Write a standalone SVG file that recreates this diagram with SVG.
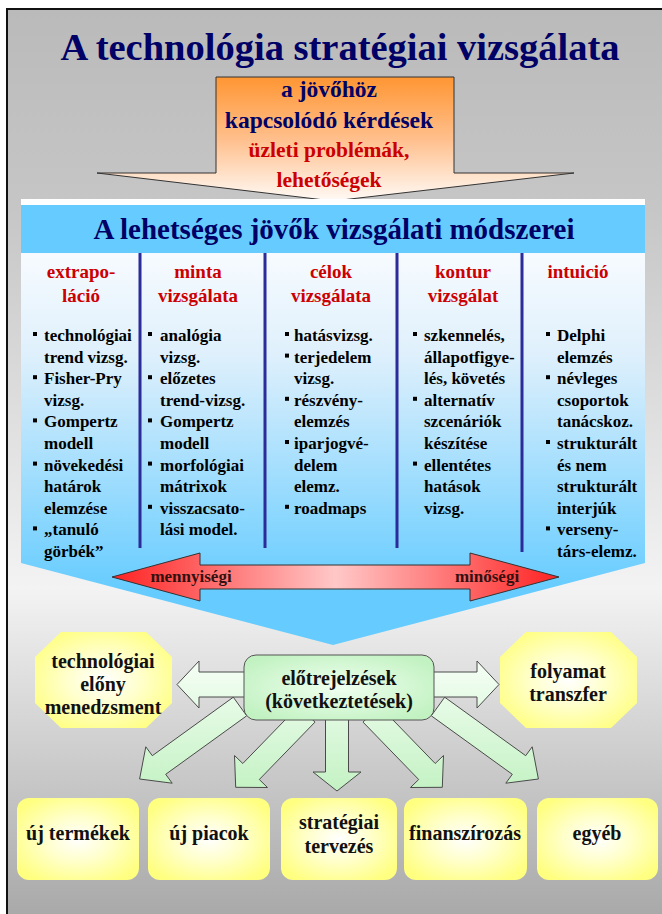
<svg xmlns="http://www.w3.org/2000/svg" width="662" height="914" viewBox="0 0 662 914">
  <style>
    text { font-family: "Liberation Serif", "Times New Roman", serif; font-weight: bold; }
    .title { font-size: 38.5px; fill: #000066; text-anchor: middle; }
    .q { font-size: 23.5px; fill: #000066; text-anchor: middle; }
    .p { font-size: 21.5px; fill: #cc0000; text-anchor: middle; }
    .hdr { font-size: 29px; fill: #000066; text-anchor: middle; }
    .colh { font-size: 19px; fill: #cc0000; text-anchor: middle; }
    .item { font-size: 17px; fill: #000000; }
    .scale { font-size: 17px; fill: #331111; text-anchor: middle; }
    .lab { font-size: 20px; fill: #111111; text-anchor: middle; }
    .div { stroke: #2b2b99; stroke-width: 3; }
    .blockarrow { fill: url(#arrowFill); stroke: #4a4a4a; stroke-width: 1; }
    .yellow { fill: url(#yellow); }
  </style>
  <defs>
    <linearGradient id="bg" gradientUnits="userSpaceOnUse" x1="0" y1="9" x2="0" y2="914">
      <stop offset="0" stop-color="#bababa"/>
      <stop offset="0.22" stop-color="#c6c6c6"/>
      <stop offset="0.64" stop-color="#f3f3f3"/>
      <stop offset="1" stop-color="#a9a9a9"/>
    </linearGradient>
    <linearGradient id="orange" x1="0" y1="0" x2="0" y2="1">
      <stop offset="0" stop-color="#ff9633"/>
      <stop offset="0.5" stop-color="#ffbf8c"/>
      <stop offset="1" stop-color="#fffaf6"/>
    </linearGradient>
    <linearGradient id="body" gradientUnits="userSpaceOnUse" x1="0" y1="253" x2="0" y2="590">
      <stop offset="0" stop-color="#f7fbff"/>
      <stop offset="0.3" stop-color="#dff0fc"/>
      <stop offset="1" stop-color="#66ccff"/>
    </linearGradient>
    <linearGradient id="red" x1="0" y1="0" x2="1" y2="0">
      <stop offset="0" stop-color="#ff2222"/>
      <stop offset="0.5" stop-color="#ffc8c8"/>
      <stop offset="1" stop-color="#ff2222"/>
    </linearGradient>
    <radialGradient id="yellow" cx="0.5" cy="0.5" r="0.6">
      <stop offset="0" stop-color="#ffffff"/>
      <stop offset="0.45" stop-color="#ffffcc"/>
      <stop offset="1" stop-color="#ffff80"/>
    </radialGradient>
    <radialGradient id="green" cx="0.5" cy="0.5" r="0.6">
      <stop offset="0" stop-color="#f0fff0"/>
      <stop offset="1" stop-color="#c2f2c2"/>
    </radialGradient>
    <linearGradient id="arrowFill" gradientUnits="userSpaceOnUse" x1="0" y1="655" x2="0" y2="790">
      <stop offset="0" stop-color="#f8fff8"/>
      <stop offset="1" stop-color="#c4f2c4"/>
    </linearGradient>
    <rect id="blt" width="4" height="4" fill="#000"/>
  </defs>

  <!-- page frame -->
  <rect x="0" y="0" width="662" height="914" fill="#ffffff"/>
  <rect x="7" y="9" width="700" height="950" fill="url(#bg)" stroke="#111" stroke-width="2"/>

  <!-- title -->
  <g id="title">
    <text class="title" x="340" y="60">A technológia stratégiai vizsgálata</text>
  </g>

  <!-- incoming questions arrow -->
  <g id="questions">
    <path d="M216,77 H454 V173 H574 L333,201 L97,173 H216 Z" fill="url(#orange)" stroke="#333" stroke-width="1"/>
    <text class="q" x="329" y="97">a jövőhöz</text>
    <text class="q" x="329" y="128">kapcsolódó kérdések</text>
    <text class="p" x="329" y="157">üzleti problémák,</text>
    <text class="p" x="329" y="187">lehetőségek</text>
  </g>

  <!-- methods panel -->
  <g id="methods">
    <path d="M21,253 H645 V563 L333,645 L21,563 Z" fill="url(#body)"/>
    <rect x="21" y="199" width="624" height="6" fill="#ffffff"/>
    <rect x="21" y="205" width="624" height="48" fill="#66ccff"/>
    <text class="hdr" x="334" y="239">A lehetséges jövők vizsgálati módszerei</text>
    <line class="div" x1="140" y1="253" x2="140" y2="548"/>
    <line class="div" x1="265" y1="253" x2="265" y2="548"/>
    <line class="div" x1="397" y1="253" x2="397" y2="548"/>
    <line class="div" x1="522" y1="253" x2="522" y2="552"/>
  </g>

  <g id="col-extrapolacio">
    <text class="colh"><tspan x="81" y="278">extrapo-</tspan><tspan x="81" y="302">láció</tspan></text>
    <use href="#blt" x="33" y="332"/>
    <use href="#blt" x="33" y="375.2"/>
    <use href="#blt" x="33" y="418.4"/>
    <use href="#blt" x="33" y="461.6"/>
    <use href="#blt" x="33" y="526.4"/>
    <text class="item">
      <tspan x="44" y="341">technológiai</tspan>
      <tspan x="44" y="362.6">trend vizsg.</tspan>
      <tspan x="44" y="384.2">Fisher-Pry</tspan>
      <tspan x="44" y="405.8">vizsg.</tspan>
      <tspan x="44" y="427.4">Gompertz</tspan>
      <tspan x="44" y="449">modell</tspan>
      <tspan x="44" y="470.6">növekedési</tspan>
      <tspan x="44" y="492.2">határok</tspan>
      <tspan x="44" y="513.8">elemzése</tspan>
      <tspan x="44" y="535.4">„tanuló</tspan>
      <tspan x="44" y="557">görbék”</tspan>
    </text>
  </g>

  <g id="col-minta">
    <text class="colh"><tspan x="198" y="278">minta</tspan><tspan x="198" y="302">vizsgálata</tspan></text>
    <use href="#blt" x="148" y="332"/>
    <use href="#blt" x="148" y="375.2"/>
    <use href="#blt" x="148" y="418.4"/>
    <use href="#blt" x="148" y="461.6"/>
    <use href="#blt" x="148" y="504.8"/>
    <text class="item">
      <tspan x="160" y="341">analógia</tspan>
      <tspan x="160" y="362.6">vizsg.</tspan>
      <tspan x="160" y="384.2">előzetes</tspan>
      <tspan x="160" y="405.8">trend-vizsg.</tspan>
      <tspan x="160" y="427.4">Gompertz</tspan>
      <tspan x="160" y="449">modell</tspan>
      <tspan x="160" y="470.6">morfológiai</tspan>
      <tspan x="160" y="492.2">mátrixok</tspan>
      <tspan x="160" y="513.8">visszacsato-</tspan>
      <tspan x="160" y="535.4">lási model.</tspan>
    </text>
  </g>

  <g id="col-celok">
    <text class="colh"><tspan x="331" y="278">célok</tspan><tspan x="331" y="302">vizsgálata</tspan></text>
    <use href="#blt" x="285" y="332"/>
    <use href="#blt" x="285" y="353.6"/>
    <use href="#blt" x="285" y="396.8"/>
    <use href="#blt" x="285" y="440"/>
    <use href="#blt" x="285" y="504.8"/>
    <text class="item">
      <tspan x="294" y="341">hatásvizsg.</tspan>
      <tspan x="294" y="362.6">terjedelem</tspan>
      <tspan x="294" y="384.2">vizsg.</tspan>
      <tspan x="294" y="405.8">részvény-</tspan>
      <tspan x="294" y="427.4">elemzés</tspan>
      <tspan x="294" y="449">iparjogvé-</tspan>
      <tspan x="294" y="470.6">delem</tspan>
      <tspan x="294" y="492.2">elemz.</tspan>
      <tspan x="294" y="513.8">roadmaps</tspan>
    </text>
  </g>

  <g id="col-kontur">
    <text class="colh"><tspan x="463" y="278">kontur</tspan><tspan x="463" y="302">vizsgálat</tspan></text>
    <use href="#blt" x="413" y="332"/>
    <use href="#blt" x="413" y="396.8"/>
    <use href="#blt" x="413" y="461.6"/>
    <text class="item">
      <tspan x="424" y="341">szkennelés,</tspan>
      <tspan x="424" y="362.6">állapotfigye-</tspan>
      <tspan x="424" y="384.2">lés, követés</tspan>
      <tspan x="424" y="405.8">alternatív</tspan>
      <tspan x="424" y="427.4">szcenáriók</tspan>
      <tspan x="424" y="449">készítése</tspan>
      <tspan x="424" y="470.6">ellentétes</tspan>
      <tspan x="424" y="492.2">hatások</tspan>
      <tspan x="424" y="513.8">vizsg.</tspan>
    </text>
  </g>

  <g id="col-intuicio">
    <text class="colh"><tspan x="578" y="278">intuició</tspan></text>
    <use href="#blt" x="546" y="332"/>
    <use href="#blt" x="546" y="375.2"/>
    <use href="#blt" x="546" y="440"/>
    <use href="#blt" x="546" y="526.4"/>
    <text class="item">
      <tspan x="557" y="341">Delphi</tspan>
      <tspan x="557" y="362.6">elemzés</tspan>
      <tspan x="557" y="384.2">névleges</tspan>
      <tspan x="557" y="405.8">csoportok</tspan>
      <tspan x="557" y="427.4">tanácskoz.</tspan>
      <tspan x="557" y="449">strukturált</tspan>
      <tspan x="557" y="470.6">és nem</tspan>
      <tspan x="557" y="492.2">strukturált</tspan>
      <tspan x="557" y="513.8">interjúk</tspan>
      <tspan x="557" y="535.4">verseny-</tspan>
      <tspan x="557" y="557">társ-elemz.</tspan>
    </text>
  </g>

  <!-- quantitative / qualitative scale -->
  <g id="scale">
    <path d="M112,577 L200,553 V565 H470 V553 L559,577 L470,601 V589 H200 V601 Z" fill="url(#red)" stroke="#333" stroke-width="1"/>
    <text class="scale" x="191" y="582">mennyiségi</text>
    <text class="scale" x="487" y="582">minőségi</text>
  </g>

  <!-- connectors from the forecasts box -->
  <g id="connectors">
    <path class="blockarrow" d="M233.3,697.2 L152.3,755.7 L145.8,746.8 L139.6,779 L172.2,783.2 L165.7,774.3 L246.7,715.8 Z"/>
    <path class="blockarrow" d="M298.5,706.1 L242.8,763.5 L234.5,755.5 L235.7,787.3 L267.5,787.5 L259.3,779.5 L315,722.1 Z"/>
    <path class="blockarrow" d="M325.5,712 H348.5 V772 H361 L337,791 L313,772 H325.5 Z"/>
    <path class="blockarrow" d="M379.5,706.1 L435.2,763.5 L443.5,755.5 L442.3,787.3 L410.5,787.5 L418.7,779.5 L363,722.1 Z"/>
    <path class="blockarrow" d="M444.7,697.2 L525.7,755.7 L532.2,746.8 L538.4,779 L505.8,783.2 L512.3,774.3 L431.3,715.8 Z"/>
    <path class="blockarrow" d="M252,672 H199 V661 L177,684.5 L199,708 V697 H252 Z"/>
    <path class="blockarrow" d="M426,672 H477 V661 L499,684.5 L477,708 V697 H426 Z"/>
  </g>

  <g id="forecasts">
    <rect x="244" y="655" width="190" height="65" rx="12" fill="url(#green)" stroke="#555" stroke-width="1"/>
    <text class="lab" x="339" y="685">előtrejelzések</text>
    <text class="lab" x="339" y="708">(következtetések)</text>
  </g>

  <g id="tech-advantage">
    <path class="yellow" d="M61,632 H146 L172,657 V703 L146,728 H61 L35,703 V657 Z"/>
    <text class="lab" x="103" y="668">technológiai</text>
    <text class="lab" x="103" y="691">előny</text>
    <text class="lab" x="103" y="714">menedzsment</text>
  </g>

  <g id="process-transfer">
    <path class="yellow" d="M526,632 H611 L637,657 V703 L611,728 H526 L500,703 V657 Z"/>
    <text class="lab" x="568" y="678">folyamat</text>
    <text class="lab" x="568" y="701">transzfer</text>
  </g>

  <g id="new-products">
    <rect class="yellow" x="17" y="798" width="122" height="82" rx="12"/>
    <text class="lab" x="78" y="840">új termékek</text>
  </g>
  <g id="new-markets">
    <rect class="yellow" x="148" y="798" width="122" height="82" rx="12"/>
    <text class="lab" x="209" y="840">új piacok</text>
  </g>
  <g id="strategic-planning">
    <rect class="yellow" x="281" y="798" width="116" height="82" rx="12"/>
    <text class="lab" x="339" y="829">stratégiai</text>
    <text class="lab" x="339" y="853">tervezés</text>
  </g>
  <g id="financing">
    <rect class="yellow" x="404" y="798" width="123" height="82" rx="12"/>
    <text class="lab" x="465" y="840">finanszírozás</text>
  </g>
  <g id="other">
    <rect class="yellow" x="537" y="798" width="121" height="82" rx="12"/>
    <text class="lab" x="597" y="840">egyéb</text>
  </g>
</svg>
